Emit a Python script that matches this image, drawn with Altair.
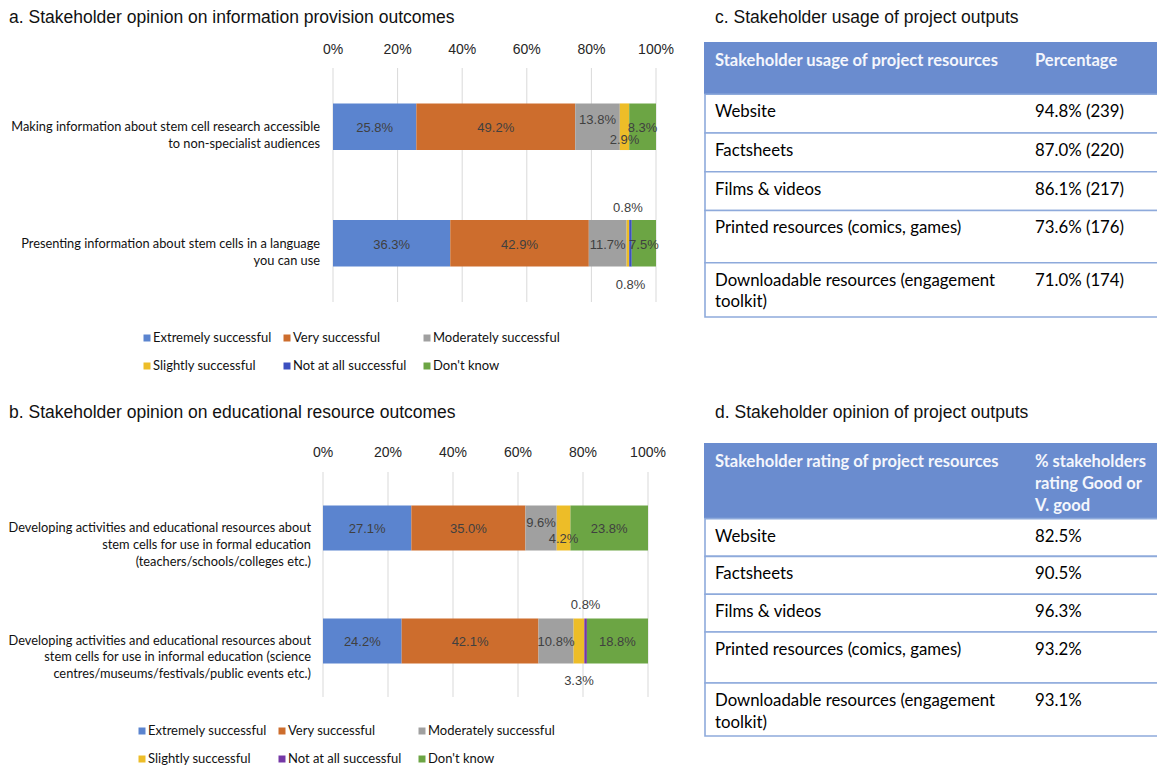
import altair as alt
import pandas as pd

# ------------------------------------------------------------------ data
CATEGORIES = ["Extremely successful", "Very successful", "Moderately successful",
              "Slightly successful", "Not at all successful", "Don't know"]

A_ITEMS = ["Making information about stem cell research accessible\nto non-specialist audiences",
           "Presenting information about stem cells in a language\nyou can use"]
A_VALUES = [[25.8, 49.2, 13.8, 2.9, 0.0, 8.3],
            [36.3, 42.9, 11.7, 0.8, 0.8, 7.5]]

B_ITEMS = ["Developing activities and educational resources about\nstem cells for use in formal education\n(teachers/schools/colleges etc.)",
           "Developing activities and educational resources about\nstem cells for use in informal education (science\ncentres/museums/festivals/public events etc.)"]
B_VALUES = [[27.1, 35.0, 9.6, 4.2, 0.0, 23.8],
            [24.2, 42.1, 10.8, 3.3, 0.8, 18.8]]

TICKS = [0, 20, 40, 60, 80, 100]

RESOURCES = ["Website", "Factsheets", "Films & videos",
             "Printed resources (comics, games)",
             "Downloadable resources (engagement\ntoolkit)"]
USAGE_PCT = [94.8, 87.0, 86.1, 73.6, 71.0]
USAGE_N = [239, 220, 217, 176, 174]
RATING_PCT = [82.5, 90.5, 96.3, 93.2, 93.1]

TITLES = ["a. Stakeholder opinion on information provision outcomes",
          "b. Stakeholder opinion on educational resource outcomes",
          "c. Stakeholder usage of project outputs",
          "d. Stakeholder opinion of project outputs"]

# ------------------------------------------------------------------ styles
COLORS_A = ["#5B84CF", "#CD6D2D", "#A0A0A0", "#EDBD28", "#3C50C0", "#6CA544"]
COLORS_B = ["#5B84CF", "#CD6D2D", "#A0A0A0", "#EDBD28", "#7538A6", "#6CA544"]
HEADER_BLUE = "#6A8CCF"
BORDER = "#8EAADB"
SANS = "Liberation Sans"
CAL = "Lato"

# label placement for small segments (row index, category index)
A_PLACE = {(0, 2): "upper", (0, 3): "lower", (1, 3): "above", (1, 4): "below"}
B_PLACE = {(0, 2): "upper", (0, 3): "lower", (1, 3): "below", (1, 4): "above"}
A_DY = {"center": 1, "upper": -7, "lower": 13, "above": -36, "below": 41}
B_DY = {"center": 1, "upper": -5, "lower": 11, "above": -36, "below": 40}


def bar_panel(items, values, colors, xr, yr, pi, po, label_x, line_h,
              tick_y, grid_y, place, dys, leg_x, leg_y):
    rows = []
    for i, item in enumerate(items):
        total = sum(values[i])
        cum = 0.0
        for j, cat in enumerate(CATEGORIES):
            v = values[i][j]
            rows.append(dict(item=item, cat=cat, value=v,
                             start=cum / total, end=(cum + v) / total,
                             mid=(cum + v / 2) / total,
                             label=f"{v:.1f}%",
                             place=place.get((i, j), "center")))
            cum += v
    df = pd.DataFrame(rows)
    xs = alt.Scale(domain=[0, 1], range=xr)
    ys = alt.Scale(domain=items, range=yr, paddingInner=pi, paddingOuter=po)
    cs = alt.Scale(domain=CATEGORIES, range=colors)

    tick_df = pd.DataFrame(dict(t=[t / 100 for t in TICKS],
                                lab=[f"{t}%" for t in TICKS]))
    grid = alt.Chart(tick_df).mark_rule(color="#D9D9D9", strokeWidth=1).encode(
        x=alt.X("t:Q", scale=xs, axis=None),
        y=alt.value(grid_y[0]), y2=alt.value(grid_y[1]))
    ticks = alt.Chart(tick_df).mark_text(font=SANS, fontSize=14, color="#262626",
                                         baseline="middle").encode(
        x=alt.X("t:Q", scale=xs, axis=None), y=alt.value(tick_y), text="lab:N")

    bars = alt.Chart(df).transform_filter(alt.datum.value > 0).mark_rect().encode(
        x=alt.X("start:Q", scale=xs, axis=None), x2="end:Q",
        y=alt.Y("item:N", scale=ys, axis=None, sort=items),
        color=alt.Color("cat:N", scale=cs, legend=None))

    layers = [grid, ticks, bars]
    for p, dy in dys.items():
        layers.append(
            alt.Chart(df).transform_filter(
                (alt.datum.place == p) & (alt.datum.value > 0)
            ).mark_text(font=SANS, fontSize=13, color="#404040", dy=dy,
                        baseline="middle").encode(
                x=alt.X("mid:Q", scale=xs, axis=None),
                y=alt.Y("item:N", scale=ys, axis=None, sort=items),
                text="label:N"))

    item_df = pd.DataFrame(dict(item=items))
    layers.append(
        alt.Chart(item_df).mark_text(font=CAL, fontSize=12.8, color="#111111",
                                     align="right", baseline="middle",
                                     lineBreak="\n", lineHeight=line_h).encode(
            x=alt.value(label_x),
            y=alt.Y("item:N", scale=ys, axis=None, sort=items),
            text="item:N"))

    leg = pd.DataFrame(dict(cat=CATEGORIES, col=[0, 1, 2, 0, 1, 2],
                            row=[0, 0, 0, 1, 1, 1]))
    lx = alt.Scale(domain=[0, 2], range=leg_x)
    ly = alt.Scale(domain=[0, 1], range=leg_y)
    layers.append(
        alt.Chart(leg).mark_square(size=49, opacity=1).encode(
            x=alt.X("col:Q", scale=lx, axis=None),
            y=alt.Y("row:Q", scale=ly, axis=None),
            color=alt.Color("cat:N", scale=cs, legend=None)))
    layers.append(
        alt.Chart(leg).mark_text(font=CAL, fontSize=13, color="#111111",
                                 align="left", baseline="middle", dx=6).encode(
            x=alt.X("col:Q", scale=lx, axis=None),
            y=alt.Y("row:Q", scale=ly, axis=None),
            text="cat:N"))
    return layers


ROW_UNITS = [1, 1, 1, 1.35, 1.4]


def table_layers(h1, h2, names, vals, header_units, y_top, y_bottom):
    edges = [0.0]
    for u in ROW_UNITS:
        edges.append(edges[-1] + u)
    ys = alt.Scale(domain=[-header_units, edges[-1]], range=[y_top, y_bottom])
    body = pd.DataFrame(dict(name=names, val=vals, y0=edges[:-1], y1=edges[1:]))
    head = pd.DataFrame(dict(h1=[h1], h2=[h2], y0=[-header_units], y1=[0.0]))
    out = []
    out.append(alt.Chart(head).mark_rect(color=HEADER_BLUE).encode(
        x=alt.value(704), x2=alt.value(1170),
        y=alt.Y("y0:Q", scale=ys, axis=None), y2="y1:Q"))
    out.append(alt.Chart(body).mark_rect(fill="white", stroke=BORDER,
                                         strokeWidth=1.6).encode(
        x=alt.value(705), x2=alt.value(1170),
        y=alt.Y("y0:Q", scale=ys, axis=None), y2="y1:Q"))
    for col, xpos in (("h1", 715), ("h2", 1035)):
        out.append(alt.Chart(head).mark_text(
            font=CAL, fontSize=16.5, fontWeight="bold", color="#F4F6FC",
            align="left", baseline="top", dy=11, lineBreak="\n",
            lineHeight=22).encode(
            x=alt.value(xpos), y=alt.Y("y0:Q", scale=ys, axis=None), text=f"{col}:N"))
    for col, xpos in (("name", 715), ("val", 1035)):
        out.append(alt.Chart(body).mark_text(
            font=CAL, fontSize=16.8, color="#000000", align="left",
            baseline="top", dy=10, lineBreak="\n", lineHeight=21.5).encode(
            x=alt.value(xpos), y=alt.Y("y0:Q", scale=ys, axis=None), text=f"{col}:N"))
    return out


layers = []
layers += bar_panel(A_ITEMS, A_VALUES, COLORS_A, [333, 656], [68, 302], 0.6, 0.304,
                    320, 17, 50, (68, 302), A_PLACE, A_DY, [147, 427], [338, 366])
layers += bar_panel(B_ITEMS, B_VALUES, COLORS_B, [323, 648], [472, 697], 0.602, 0.2965,
                    311, 16.7, 453, (472, 697), B_PLACE, B_DY, [142, 422], [731, 759])

usage_txt = [f"{p:.1f}% ({n})" for p, n in zip(USAGE_PCT, USAGE_N)]
rating_txt = [f"{p:.1f}%" for p in RATING_PCT]
layers += table_layers("Stakeholder usage of project resources", "Percentage",
                       RESOURCES, usage_txt, 1.35, 42, 317)
layers += table_layers("Stakeholder rating of project resources",
                       "% stakeholders\nrating Good or\nV. good",
                       RESOURCES, rating_txt, 2.0, 443, 736)

title_pos = [(9, 18), (9, 413), (715, 18), (715, 413)]
for t, (tx, ty) in zip(TITLES, title_pos):
    layers.append(alt.Chart(pd.DataFrame(dict(t=[t]))).mark_text(
        font=SANS, fontSize=17.5, color="#111111", align="left",
        baseline="middle").encode(x=alt.value(tx), y=alt.value(ty), text="t:N"))

chart = alt.layer(*layers).resolve_scale(
    x="independent", y="independent", color="independent"
).properties(
    width=1157, height=767, autosize=alt.AutoSizeParams(type="none"),
    padding=0, background="white"
).configure_view(stroke=None)

chart.save("out.html", embed_options={"renderer": "svg", "actions": False})
